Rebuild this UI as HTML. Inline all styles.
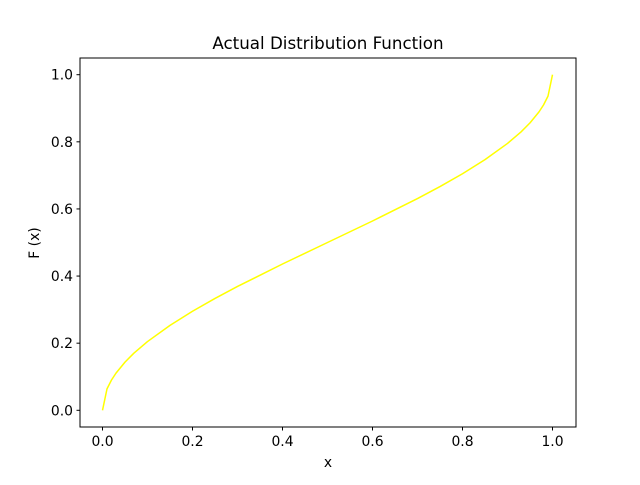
<!DOCTYPE html>
<html><head><meta charset="utf-8">
<style>
html,body{margin:0;padding:0;background:#fff;}
svg text{font-family:"DejaVu Sans","Liberation Sans",sans-serif;fill:#000;}
</style></head>
<body>
<svg id="chart" width="640" height="480" viewBox="0 0 640 480">
<rect x="0" y="0" width="640" height="480" fill="#fff"/>
<text x="328" y="49" font-size="16.7" text-anchor="middle">Actual Distribution Function</text>
<g id="xticks"></g><g id="yticks"></g>
<path id="curve" fill="none" stroke="#ffff00" stroke-width="1.5" stroke-linejoin="round"/>
<rect x="80" y="58" width="496" height="369" fill="none" stroke="#000" stroke-width="1"/>
<text x="328" y="467" font-size="13.9" text-anchor="middle">x</text>
<text x="0" y="0" font-size="13.9" text-anchor="middle" transform="translate(39,243) rotate(-90)">F (x)</text>
</svg>
<script>
const xs = [0,0.01,0.02,0.03,0.05,0.07,0.1,0.15,0.2,0.25,0.3,0.4,0.5,0.6,0.7,0.75,0.8,0.85,0.9,0.93,0.95,0.97,0.98,0.99,1];
const ys = [0,0.0638,0.0903,0.1108,0.1436,0.1705,0.2048,0.2532,0.2952,0.3333,0.369,0.4359,0.5,0.5641,0.631,0.6667,0.7048,0.7468,0.7952,0.8295,0.8564,0.8892,0.9097,0.9362,1];
const xTicks = [0,0.2,0.4,0.6,0.8,1.0];
const yTicks = [0,0.2,0.4,0.6,0.8,1.0];
const X = v => 102.5 + v*450;
const Y = v => 410.3 - v*335.6;
const ns = 'http://www.w3.org/2000/svg';
let d = '';
xs.forEach((x,i)=>{ d += (i?'L':'M') + X(x).toFixed(2) + ',' + Y(ys[i]).toFixed(2); });
document.getElementById('curve').setAttribute('d', d);
const gx = document.getElementById('xticks');
xTicks.forEach(t=>{
  const l = document.createElementNS(ns,'line');
  l.setAttribute('x1',X(t)); l.setAttribute('x2',X(t)); l.setAttribute('y1',427); l.setAttribute('y2',430.5);
  l.setAttribute('stroke','#000');
  
  
  gx.appendChild(l);
  const tx = document.createElementNS(ns,'text');
  tx.setAttribute('x',X(t)); tx.setAttribute('y',446); tx.setAttribute('font-size','13.9'); tx.setAttribute('text-anchor','middle');
  tx.textContent = t.toFixed(1);
  
  
  gx.appendChild(tx);
});
const gy = document.getElementById('yticks');
yTicks.forEach(t=>{
  const l = document.createElementNS(ns,'line');
  l.setAttribute('x1',76.5); l.setAttribute('x2',80); l.setAttribute('y1',Y(t)); l.setAttribute('y2',Y(t));
  l.setAttribute('stroke','#000');
  
  
  gy.appendChild(l);
  const tx = document.createElementNS(ns,'text');
  tx.setAttribute('x',73); tx.setAttribute('y',Y(t)+5); tx.setAttribute('font-size','13.9'); tx.setAttribute('text-anchor','end');
  tx.textContent = t.toFixed(1);
  
  
  gy.appendChild(tx);
});
</script>
</body></html>
